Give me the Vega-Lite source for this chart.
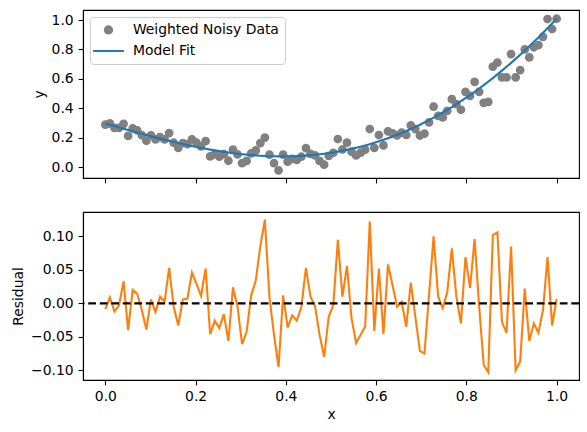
{
  "$schema": "https://vega.github.io/schema/vega-lite/v6.json",
  "padding": {"left": 11, "top": 9, "right": 9, "bottom": 10},
  "config": {
    "font": "DejaVu Sans",
    "view": {"stroke": "black", "strokeWidth": 1.1},
    "axis": {
      "labelFont": "DejaVu Sans",
      "labelFontSize": 13.9,
      "labelColor": "black",
      "labelOverlap": false,
      "titleFont": "DejaVu Sans",
      "titleFontSize": 13.9,
      "titleFontWeight": "normal",
      "titleColor": "black",
      "titlePadding": 5,
      "tickColor": "black",
      "tickSize": 4.9,
      "tickWidth": 1.1,
      "domainColor": "black",
      "domainWidth": 1.1,
      "labelPadding": 4.9,
      "grid": false
    }
  },
  "datasets": {
    "d": [
      {"x": 0, "y": 0.2885, "fit": 0.297, "resid": -0.0085},
      {"x": 0.0101, "y": 0.297, "fit": 0.288, "resid": 0.009},
      {"x": 0.0202, "y": 0.267, "fit": 0.279, "resid": -0.012},
      {"x": 0.0303, "y": 0.2671, "fit": 0.2701, "resid": -0.003},
      {"x": 0.0404, "y": 0.2943, "fit": 0.2613, "resid": 0.033},
      {"x": 0.0505, "y": 0.2125, "fit": 0.2525, "resid": -0.04},
      {"x": 0.0606, "y": 0.2637, "fit": 0.2437, "resid": 0.02},
      {"x": 0.0707, "y": 0.2491, "fit": 0.2351, "resid": 0.014},
      {"x": 0.0808, "y": 0.2166, "fit": 0.2266, "resid": -0.01},
      {"x": 0.0909, "y": 0.1792, "fit": 0.2182, "resid": -0.039},
      {"x": 0.101, "y": 0.216, "fit": 0.21, "resid": 0.006},
      {"x": 0.1111, "y": 0.1888, "fit": 0.2018, "resid": -0.013},
      {"x": 0.1212, "y": 0.2038, "fit": 0.1938, "resid": 0.01},
      {"x": 0.1313, "y": 0.1885, "fit": 0.186, "resid": 0.0025},
      {"x": 0.1414, "y": 0.2314, "fit": 0.1784, "resid": 0.053},
      {"x": 0.1515, "y": 0.1659, "fit": 0.1709, "resid": -0.005},
      {"x": 0.1616, "y": 0.1307, "fit": 0.1637, "resid": -0.033},
      {"x": 0.1717, "y": 0.1626, "fit": 0.1566, "resid": 0.006},
      {"x": 0.1818, "y": 0.1568, "fit": 0.1498, "resid": 0.007},
      {"x": 0.1919, "y": 0.1891, "fit": 0.1431, "resid": 0.046},
      {"x": 0.202, "y": 0.1658, "fit": 0.1368, "resid": 0.029},
      {"x": 0.2121, "y": 0.1416, "fit": 0.1306, "resid": 0.011},
      {"x": 0.2222, "y": 0.1767, "fit": 0.1247, "resid": 0.052},
      {"x": 0.2323, "y": 0.0731, "fit": 0.1191, "resid": -0.046},
      {"x": 0.2424, "y": 0.0878, "fit": 0.1138, "resid": -0.026},
      {"x": 0.2525, "y": 0.0717, "fit": 0.1087, "resid": -0.037},
      {"x": 0.2626, "y": 0.088, "fit": 0.104, "resid": -0.016},
      {"x": 0.2727, "y": 0.0435, "fit": 0.0995, "resid": -0.056},
      {"x": 0.2828, "y": 0.1194, "fit": 0.0954, "resid": 0.024},
      {"x": 0.2929, "y": 0.0865, "fit": 0.0915, "resid": -0.005},
      {"x": 0.303, "y": 0.0271, "fit": 0.0881, "resid": -0.061},
      {"x": 0.3131, "y": 0.0429, "fit": 0.0849, "resid": -0.042},
      {"x": 0.3232, "y": 0.0941, "fit": 0.0821, "resid": 0.012},
      {"x": 0.3333, "y": 0.1137, "fit": 0.0797, "resid": 0.034},
      {"x": 0.3434, "y": 0.1626, "fit": 0.0776, "resid": 0.085},
      {"x": 0.3535, "y": 0.2009, "fit": 0.0759, "resid": 0.125},
      {"x": 0.3636, "y": 0.0845, "fit": 0.0745, "resid": 0.01},
      {"x": 0.3737, "y": 0.0266, "fit": 0.0736, "resid": -0.047},
      {"x": 0.3838, "y": -0.022, "fit": 0.073, "resid": -0.095},
      {"x": 0.3939, "y": 0.0849, "fit": 0.0729, "resid": 0.012},
      {"x": 0.404, "y": 0.0373, "fit": 0.0732, "resid": -0.036},
      {"x": 0.4141, "y": 0.056, "fit": 0.0738, "resid": -0.018},
      {"x": 0.4242, "y": 0.0495, "fit": 0.075, "resid": -0.026},
      {"x": 0.4343, "y": 0.0707, "fit": 0.0765, "resid": -0.006},
      {"x": 0.4444, "y": 0.1295, "fit": 0.0785, "resid": 0.053},
      {"x": 0.4545, "y": 0.0905, "fit": 0.0809, "resid": 0.01},
      {"x": 0.4646, "y": 0.08, "fit": 0.0838, "resid": -0.004},
      {"x": 0.4747, "y": 0.043, "fit": 0.0871, "resid": -0.047},
      {"x": 0.4848, "y": 0.0166, "fit": 0.0909, "resid": -0.08},
      {"x": 0.4949, "y": 0.0768, "fit": 0.0952, "resid": -0.02},
      {"x": 0.5051, "y": 0.0977, "fit": 0.1, "resid": -0.0025},
      {"x": 0.5152, "y": 0.1912, "fit": 0.1053, "resid": 0.095},
      {"x": 0.5253, "y": 0.12, "fit": 0.111, "resid": 0.01},
      {"x": 0.5354, "y": 0.167, "fit": 0.1173, "resid": 0.056},
      {"x": 0.5455, "y": 0.1047, "fit": 0.124, "resid": -0.022},
      {"x": 0.5556, "y": 0.0799, "fit": 0.1312, "resid": -0.059},
      {"x": 0.5657, "y": 0.0985, "fit": 0.139, "resid": -0.047},
      {"x": 0.5758, "y": 0.1183, "fit": 0.1473, "resid": -0.034},
      {"x": 0.5859, "y": 0.2591, "fit": 0.156, "resid": 0.122},
      {"x": 0.596, "y": 0.1311, "fit": 0.1654, "resid": -0.041},
      {"x": 0.6061, "y": 0.2183, "fit": 0.1752, "resid": 0.052},
      {"x": 0.6162, "y": 0.1479, "fit": 0.1856, "resid": -0.046},
      {"x": 0.6263, "y": 0.2435, "fit": 0.1965, "resid": 0.058},
      {"x": 0.6364, "y": 0.2297, "fit": 0.208, "resid": 0.027},
      {"x": 0.6465, "y": 0.2161, "fit": 0.2201, "resid": -0.005},
      {"x": 0.6566, "y": 0.2346, "fit": 0.2326, "resid": 0.0025},
      {"x": 0.6667, "y": 0.2186, "fit": 0.2458, "resid": -0.035},
      {"x": 0.6768, "y": 0.2833, "fit": 0.2595, "resid": 0.031},
      {"x": 0.6869, "y": 0.2585, "fit": 0.2737, "resid": -0.02},
      {"x": 0.697, "y": 0.215, "fit": 0.2885, "resid": -0.071},
      {"x": 0.7071, "y": 0.228, "fit": 0.304, "resid": -0.075},
      {"x": 0.7172, "y": 0.304, "fit": 0.3199, "resid": 0.012},
      {"x": 0.7273, "y": 0.412, "fit": 0.3365, "resid": 0.1},
      {"x": 0.7374, "y": 0.349, "fit": 0.3537, "resid": 0.01},
      {"x": 0.7475, "y": 0.338, "fit": 0.3714, "resid": -0.007},
      {"x": 0.7576, "y": 0.383, "fit": 0.3897, "resid": 0.017},
      {"x": 0.7677, "y": 0.462, "fit": 0.4086, "resid": 0.082},
      {"x": 0.7778, "y": 0.428, "fit": 0.4281, "resid": 0.01},
      {"x": 0.7879, "y": 0.39, "fit": 0.4482, "resid": -0.03},
      {"x": 0.798, "y": 0.512, "fit": 0.4688, "resid": 0.069},
      {"x": 0.8081, "y": 0.485, "fit": 0.4902, "resid": 0.023},
      {"x": 0.8182, "y": 0.58, "fit": 0.512, "resid": 0.096},
      {"x": 0.8283, "y": 0.512, "fit": 0.5345, "resid": -0.005},
      {"x": 0.8384, "y": 0.437, "fit": 0.5576, "resid": -0.092},
      {"x": 0.8485, "y": 0.444, "fit": 0.5813, "resid": -0.103},
      {"x": 0.8586, "y": 0.683, "fit": 0.6056, "resid": 0.102},
      {"x": 0.8687, "y": 0.711, "fit": 0.6305, "resid": 0.106},
      {"x": 0.8788, "y": 0.61, "fit": 0.656, "resid": -0.028},
      {"x": 0.8889, "y": 0.61, "fit": 0.6822, "resid": -0.044},
      {"x": 0.899, "y": 0.769, "fit": 0.709, "resid": 0.085},
      {"x": 0.9091, "y": 0.61, "fit": 0.7362, "resid": -0.1},
      {"x": 0.9192, "y": 0.66, "fit": 0.7642, "resid": -0.087},
      {"x": 0.9293, "y": 0.8, "fit": 0.7928, "resid": 0.022},
      {"x": 0.9394, "y": 0.746, "fit": 0.822, "resid": -0.056},
      {"x": 0.9495, "y": 0.815, "fit": 0.8518, "resid": -0.03},
      {"x": 0.9596, "y": 0.83, "fit": 0.8822, "resid": -0.044},
      {"x": 0.9697, "y": 0.886, "fit": 0.9132, "resid": -0.01},
      {"x": 0.9798, "y": 1.007, "fit": 0.9448, "resid": 0.069},
      {"x": 0.9899, "y": 0.939, "fit": 0.9772, "resid": -0.033},
      {"x": 1, "y": 1.009, "fit": 1.01, "resid": 0.0065}
    ]
  },
  "bounds": "flush",
  "spacing": 34,
  "vconcat": [
    {
      "width": 496,
      "height": 168,
      "data": {"name": "d"},
      "layer": [
        {
          "mark": {"type": "point", "filled": true, "size": 54, "strokeWidth": 1.4, "opacity": 1},
          "encoding": {
            "x": {
              "field": "x",
              "type": "quantitative",
              "scale": {"domain": [-0.0495, 1.0495], "nice": false, "zero": false},
              "axis": {"values": [0, 0.2, 0.4, 0.6, 0.8, 1], "labels": false, "title": null}
            },
            "y": {
              "field": "y",
              "type": "quantitative",
              "scale": {"domain": [-0.0739, 1.0684], "nice": false, "zero": false},
              "axis": {"values": [0, 0.2, 0.4, 0.6, 0.8, 1], "format": ".1f", "title": "y", "labelOverlap": false, "tickCount": 6}
            },
            "fill": {
              "datum": "Weighted Noisy Data",
              "type": "nominal",
              "scale": {"domain": ["Weighted Noisy Data", "Model Fit"], "range": ["#808080", "#1f77b4"]},
              "legend": {
                "title": null,
                "orient": "none",
                "legendX": 7,
                "legendY": 7,
                "padding": 6,
                "labelFont": "DejaVu Sans",
                "labelFontSize": 13.9,
                "labelColor": "black",
                "symbolSize": 54,
                "symbolOffset": 5.5,
                "labelOffset": 17.5,
                "rowPadding": 5,
                "strokeColor": "#cccccc",
                "fillColor": "rgba(255,255,255,0.8)",
                "cornerRadius": 3,
                "symbolStrokeWidth": 2,
                "symbolOpacity": 1
              }
            },
            "stroke": {
              "datum": "Weighted Noisy Data",
              "type": "nominal",
              "scale": {"domain": ["Weighted Noisy Data", "Model Fit"], "range": ["#808080", "#1f77b4"]},
              "legend": {
                "title": null,
                "orient": "none",
                "legendX": 7,
                "legendY": 7,
                "padding": 6,
                "labelFont": "DejaVu Sans",
                "labelFontSize": 13.9,
                "labelColor": "black",
                "symbolSize": 54,
                "symbolOffset": 5.5,
                "labelOffset": 17.5,
                "rowPadding": 5,
                "strokeColor": "#cccccc",
                "fillColor": "rgba(255,255,255,0.8)",
                "cornerRadius": 3,
                "symbolStrokeWidth": 2,
                "symbolOpacity": 1
              }
            },
            "shape": {
              "datum": "Weighted Noisy Data",
              "type": "nominal",
              "scale": {"domain": ["Weighted Noisy Data", "Model Fit"], "range": ["circle", "M-4.2,0L4.2,0"]},
              "legend": {
                "title": null,
                "orient": "none",
                "legendX": 7,
                "legendY": 7,
                "padding": 6,
                "labelFont": "DejaVu Sans",
                "labelFontSize": 13.9,
                "labelColor": "black",
                "symbolSize": 54,
                "symbolOffset": 5.5,
                "labelOffset": 17.5,
                "rowPadding": 5,
                "strokeColor": "#cccccc",
                "fillColor": "rgba(255,255,255,0.8)",
                "cornerRadius": 3,
                "symbolStrokeWidth": 2,
                "symbolOpacity": 1
              }
            }
          }
        },
        {
          "mark": {"type": "line", "strokeWidth": 2.1},
          "encoding": {
            "x": {"field": "x", "type": "quantitative"},
            "y": {"field": "fit", "type": "quantitative", "axis": {"values": [0, 0.2, 0.4, 0.6, 0.8, 1], "format": ".1f", "title": "y", "labelOverlap": false, "tickCount": 6}},
            "stroke": {"datum": "Model Fit", "type": "nominal"}
          }
        }
      ]
    },
    {
      "width": 496,
      "height": 168,
      "data": {"name": "d"},
      "layer": [
        {
          "mark": {"type": "line", "color": "#ff7f0e", "strokeWidth": 2.1},
          "encoding": {
            "x": {
              "field": "x",
              "type": "quantitative",
              "scale": {"domain": [-0.0495, 1.0495], "nice": false, "zero": false},
              "axis": {"values": [0, 0.2, 0.4, 0.6, 0.8, 1], "format": ".1f", "title": "x", "titlePadding": 4, "labelOverlap": false}
            },
            "y": {
              "field": "resid",
              "type": "quantitative",
              "scale": {"domain": [-0.1144, 0.1364], "nice": false, "zero": false},
              "axis": {"values": [-0.1, -0.05, 0, 0.05, 0.1], "format": ".2f", "title": "Residual", "labelOverlap": false}
            }
          }
        },
        {
          "data": {"values": [{"zero": 0}]},
          "mark": {"type": "rule", "color": "black", "strokeWidth": 2.1, "strokeDash": [7.7, 3.8]},
          "encoding": {"y": {"field": "zero", "type": "quantitative"}}
        }
      ]
    }
  ]
}
